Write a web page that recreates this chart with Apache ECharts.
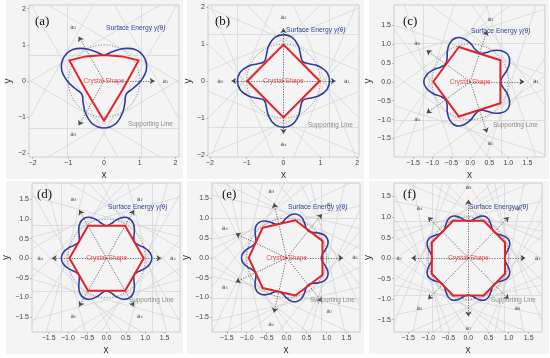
<!DOCTYPE html>
<html><head><meta charset="utf-8">
<script src="https://cdn.jsdelivr.net/npm/echarts@6/dist/echarts.min.js"></script>
<style>html,body{margin:0;padding:0;background:#fff}#c{width:550px;height:358px}</style>
</head><body><div id="c"></div>
<script>
// Panel tags
const panelTags = ['(a)', '(b)', '(c)', '(d)', '(e)', '(f)'];

// Surface energy γ(θ) radii, equal angle steps starting at θ = 0 (8 samples per lobe period)
const gammaA = [1.03,1.23,1.30,1.23,1.03,0.83,0.72,0.83, 1.03,1.23,1.30,1.23,1.03,0.83,0.72,0.83, 1.03,1.23,1.30,1.23,1.03,0.83,0.72,0.83];
const gammaB = [1.25,1.20,1.04,0.84,0.74,0.84,1.04,1.20, 1.25,1.20,1.04,0.84,0.74,0.84,1.04,1.20, 1.25,1.20,1.04,0.84,0.74,0.84,1.04,1.20, 1.25,1.20,1.04,0.84,0.74,0.84,1.04,1.20];
const gammaC = [0.80,0.86,1.02,1.16,1.22,1.16,1.02,0.86, 0.80,0.86,1.02,1.16,1.22,1.16,1.02,0.86, 0.80,0.86,1.02,1.16,1.22,1.16,1.02,0.86, 0.80,0.86,1.02,1.16,1.22,1.16,1.02,0.86, 0.80,0.86,1.02,1.16,1.22,1.16,1.02,0.86];
const gammaD = [1.17,1.13,1.02,0.89,0.83,0.89,1.02,1.13, 1.17,1.13,1.02,0.89,0.83,0.89,1.02,1.13, 1.17,1.13,1.02,0.89,0.83,0.89,1.02,1.13, 1.17,1.13,1.02,0.89,0.83,0.89,1.02,1.13, 1.17,1.13,1.02,0.89,0.83,0.89,1.02,1.13, 1.17,1.13,1.02,0.89,0.83,0.89,1.02,1.13];
const gammaE = [0.87,0.91,1.01,1.10,1.13,1.10,1.01,0.91, 0.87,0.91,1.01,1.10,1.13,1.10,1.01,0.91, 0.87,0.91,1.01,1.10,1.13,1.10,1.01,0.91, 0.87,0.91,1.01,1.10,1.13,1.10,1.01,0.91, 0.87,0.91,1.01,1.10,1.13,1.10,1.01,0.91, 0.87,0.91,1.01,1.10,1.13,1.10,1.01,0.91, 0.87,0.91,1.01,1.10,1.13,1.10,1.01,0.91];
const gammaF = [0.90,0.93,1.00,1.07,1.10,1.07,1.00,0.93, 0.90,0.93,1.00,1.07,1.10,1.07,1.00,0.93, 0.90,0.93,1.00,1.07,1.10,1.07,1.00,0.93, 0.90,0.93,1.00,1.07,1.10,1.07,1.00,0.93, 0.90,0.93,1.00,1.07,1.10,1.07,1.00,0.93, 0.90,0.93,1.00,1.07,1.10,1.07,1.00,0.93, 0.90,0.93,1.00,1.07,1.10,1.07,1.00,0.93, 0.90,0.93,1.00,1.07,1.10,1.07,1.00,0.93];

// Crystal (Wulff) shape outlines [x, y]
const crystalA = [[0.97,0.57],[0.52,-0.24],[0,-1.10],[-0.52,-0.24],[-0.97,0.57],[-0.5,0.68],[0,0.72],[0.5,0.68]];
const crystalB = [[0.98,0],[0,0.98],[-0.98,0],[0,-0.98]];
const crystalC = [[0.79,0.57],[-0.30,0.92],[-0.97,0],[-0.30,-0.92],[0.79,-0.57]];
const crystalD = [[0.96,0],[0.48,0.83],[-0.48,0.83],[-0.96,0],[-0.48,-0.83],[0.48,-0.83]];
const crystalE = [[0.90,0.43],[0.22,0.95],[-0.60,0.76],[-0.95,0],[-0.60,-0.76],[0.22,-0.95],[0.90,-0.43]];
const crystalF = [[0.91,0.38],[0.38,0.91],[-0.38,0.91],[-0.91,0.38],[-0.91,-0.38],[-0.38,-0.91],[0.38,-0.91],[0.91,-0.38]];

// Lattice direction arrows a1..an (degrees)
const arrowsA = [0,120,240];
const arrowsB = [0,90,180,270];
const arrowsC = [0,72,144,216,288];
const arrowsD = [0,60,120,180,240,300];
const arrowsE = [0,51.4,102.9,154.3,205.7,257.1,308.6];
const arrowsF = [0,45,90,135,180,225,270,315];

// Tick labels
const ticksInt = [-2,-1,0,1,2];
const ticksHalf = [-1.5,-1,-0.5,0,0.5,1,1.5];

const circleRadius = 1;
const arrowTip = 1.42, arrowLabelR = 1.72;

const FF = 'Liberation Sans';
const BLUE = '#2f3e9e', RED = '#e5222a';

const layout = [
 {grid:{left:29,top:5,width:150,height:152}, xr:[-2.1,2.1], yr:[-2.1,2.1], ygap:16, xgap:13, tag:[35,22], se:[106,28], sl:[128,124], bg:[6,0,177,179]},
 {grid:{left:208,top:5,width:151,height:152}, xr:[-2.05,2.05], yr:[-2.05,2.05], ygap:15, xgap:13, tag:[215,22], se:[286,30], sl:[308,125], bg:[187,0,177,179]},
 {grid:{left:394,top:5,width:151,height:152}, xr:[-2.0,1.96], yr:[-1.99,2.03], ygap:13, xgap:13, tag:[403,22], se:[471,31], sl:[493,125], bg:[369,0,180,179]},
 {grid:{left:32,top:183,width:148,height:149}, xr:[-1.93,1.9], yr:[-1.88,1.92], ygap:18, xgap:13, tag:[37,195], se:[108,207], sl:[129,300], bg:[6,181,177,173]},
 {grid:{left:212,top:183,width:148,height:149}, xr:[-1.87,1.84], yr:[-1.87,1.89], ygap:17, xgap:13, tag:[222,195], se:[288,207], sl:[310,300], bg:[187,181,177,173]},
 {grid:{left:394,top:183,width:148,height:149}, xr:[-1.85,1.83], yr:[-1.8,1.83], ygap:14, xgap:13, tag:[403,195], se:[469,207], sl:[491,300], bg:[369,181,180,173]}
];

const data = [
 {gamma:gammaA, crystal:crystalA, arrows:arrowsA, ticks:ticksInt, dec:0},
 {gamma:gammaB, crystal:crystalB, arrows:arrowsB, ticks:ticksInt, dec:0},
 {gamma:gammaC, crystal:crystalC, arrows:arrowsC, ticks:ticksHalf, dec:1},
 {gamma:gammaD, crystal:crystalD, arrows:arrowsD, ticks:ticksHalf, dec:1},
 {gamma:gammaE, crystal:crystalE, arrows:arrowsE, ticks:ticksHalf, dec:1},
 {gamma:gammaF, crystal:crystalF, arrows:arrowsF, ticks:ticksHalf, dec:1}
];

const deg = Math.PI / 180;
const subs = ['\u2080','\u2081','\u2082','\u2083','\u2084','\u2085','\u2086','\u2087','\u2088','\u2089'];
const fmt = dec => v => (v < 0 ? '\u2212' : '') + Math.abs(v).toFixed(dec);

function polarToXY(radii) {
  const n = radii.length;
  return radii.map((r, k) => {
    const t = 2 * Math.PI * k / n;
    return [r * Math.cos(t), r * Math.sin(t)];
  });
}

function clipLine(theta, d, xr, yr) {
  const c = Math.cos(theta), s = Math.sin(theta);
  const px = d * c, py = d * s, dx = -s, dy = c;
  let t0 = -1000, t1 = 1000;
  const p = [-dx, dx, -dy, dy];
  const q = [px - xr[0], xr[1] - px, py - yr[0], yr[1] - py];
  for (let i = 0; i < 4; i++) {
    if (Math.abs(p[i]) < 1e-12) { if (q[i] < 0) return null; continue; }
    const r = q[i] / p[i];
    if (p[i] < 0) { if (r > t1) return null; if (r > t0) t0 = r; }
    else { if (r < t0) return null; if (r < t1) t1 = r; }
  }
  return [[px + t0 * dx, py + t0 * dy], [px + t1 * dx, py + t1 * dy]];
}

function polySeries(i, pts, color, width, smooth, z) {
  return {
    type: 'custom', xAxisIndex: i, yAxisIndex: i, silent: true, z: z,
    data: pts.map(p => [p[0], p[1]]),
    renderItem: (params, api) => {
      if (params.dataIndex !== 0) return null;
      const pp = pts.map(p => api.coord(p));
      return { type: 'polygon', shape: { points: pp, smooth: smooth },
        style: { fill: 'none', stroke: color, lineWidth: width, lineJoin: 'round' } };
    }
  };
}

const option = { animation: false, backgroundColor: '#ffffff', grid: [], xAxis: [], yAxis: [], series: [], graphic: { elements: [] } };

data.forEach((d, i) => {
  const L = layout[i];
  option.graphic.elements.push({ type: 'rect', silent: true, z: -10,
    shape: { x: L.bg[0], y: L.bg[1], width: L.bg[2], height: L.bg[3] }, style: { fill: '#f4f4f4' } });

  option.grid.push(Object.assign({}, L.grid, { show: true, borderColor: '#c4c4c4', borderWidth: 0.8, backgroundColor: 'transparent' }));
  const axisCommon = {
    gridIndex: i, type: 'value',
    nameLocation: 'middle',
    nameTextStyle: { fontFamily: FF, fontSize: 10, color: '#333' },
    axisLine: { show: false, onZero: false },
    splitLine: { show: false },
    axisTick: { show: true, length: 2, lineStyle: { color: '#999', width: 0.6 }, customValues: d.ticks },
    axisLabel: { customValues: d.ticks, fontFamily: FF, fontSize: 7, color: '#444', margin: 3, formatter: fmt(d.dec) }
  };
  option.xAxis.push(Object.assign({}, axisCommon, { min: L.xr[0], max: L.xr[1], name: 'x', nameGap: L.xgap }));
  option.yAxis.push(Object.assign({}, axisCommon, { min: L.yr[0], max: L.yr[1], name: 'y', nameGap: L.ygap, nameRotate: 90 }));

  // supporting lines (every other sample direction)
  const n = d.gamma.length;
  const sup = [];
  d.gamma.forEach((r, k) => {
    if (k % 2) return;
    const seg = clipLine(2 * Math.PI * k / n, r, L.xr, L.yr);
    if (seg) sup.push({ coords: seg });
  });
  option.series.push({ type: 'lines', coordinateSystem: 'cartesian2d', xAxisIndex: i, yAxisIndex: i, silent: true, z: 1,
    data: sup, symbol: 'none', lineStyle: { color: '#d3d3d3', width: 0.7, opacity: 1 } });

  // dotted unit circle
  option.series.push({ type: 'custom', xAxisIndex: i, yAxisIndex: i, silent: true, z: 2,
    data: [[0, 0, circleRadius]],
    renderItem: (params, api) => {
      const c = api.coord([api.value(0), api.value(1)]);
      const ex = api.coord([api.value(0) + api.value(2), api.value(1)]);
      const ey = api.coord([api.value(0), api.value(1) + api.value(2)]);
      return { type: 'ellipse', shape: { cx: c[0], cy: c[1], rx: Math.abs(ex[0] - c[0]), ry: Math.abs(c[1] - ey[1]) },
        style: { fill: 'none', stroke: '#707070', lineWidth: 0.8, lineDash: [1.2, 1.6] } };
    } });

  // arrows
  option.series.push({ type: 'lines', coordinateSystem: 'cartesian2d', xAxisIndex: i, yAxisIndex: i, silent: true, z: 3,
    symbol: ['none', 'arrow'], symbolSize: 5,
    data: d.arrows.map(a => ({ coords: [[0, 0], [arrowTip * Math.cos(a * deg), arrowTip * Math.sin(a * deg)]] })),
    lineStyle: { color: '#4a4a4a', width: 0.8, type: [1.2, 1.4], opacity: 1 } });
  option.series.push({ type: 'scatter', xAxisIndex: i, yAxisIndex: i, silent: true, z: 6, symbolSize: 0,
    data: d.arrows.map((a, k) => [arrowLabelR * Math.cos(a * deg), arrowLabelR * Math.sin(a * deg), k + 1]),
    label: { show: true, position: 'inside', fontFamily: 'DejaVu Sans', fontSize: 5.8, color: '#222',
      formatter: p => 'a' + subs[p.data[2]] } });

  // surface energy curve and crystal shape
  option.series.push(polySeries(i, polarToXY(d.gamma), BLUE, 1.6, 0.4, 4));
  option.series.push(polySeries(i, d.crystal, RED, 2, 0, 5));

  // texts
  option.series.push({ type: 'scatter', xAxisIndex: i, yAxisIndex: i, silent: true, z: 7, symbolSize: 0,
    data: [[0, 0]],
    label: { show: true, position: 'inside', formatter: 'Crystal Shape', fontFamily: FF, fontSize: 6.5, color: '#e0262a' } });

  option.graphic.elements.push({ type: 'text', silent: true, z: 100, x: L.tag[0], y: L.tag[1],
    style: { text: panelTags[i], font: '13px "Liberation Serif"', fill: '#111', verticalAlign: 'middle' } });
  option.graphic.elements.push({ type: 'text', silent: true, z: 100, x: L.se[0], y: L.se[1],
    style: { text: '{n|Surface Energy }{i|γ(θ)}', verticalAlign: 'middle', fill: '#3445a5',
      rich: { n: { fontFamily: FF, fontSize: 6.7, fill: '#3445a5' }, i: { fontFamily: FF, fontSize: 6.7, fontStyle: 'italic', fill: '#3445a5' } } } });
  option.graphic.elements.push({ type: 'text', silent: true, z: 100, x: L.sl[0], y: L.sl[1],
    style: { text: 'Supporting Line', font: '6.4px "Liberation Sans"', fill: '#8c8c8c', verticalAlign: 'middle' } });
});

const chart = echarts.init(document.getElementById('c'));
chart.setOption(option);
</script>
</body></html>
